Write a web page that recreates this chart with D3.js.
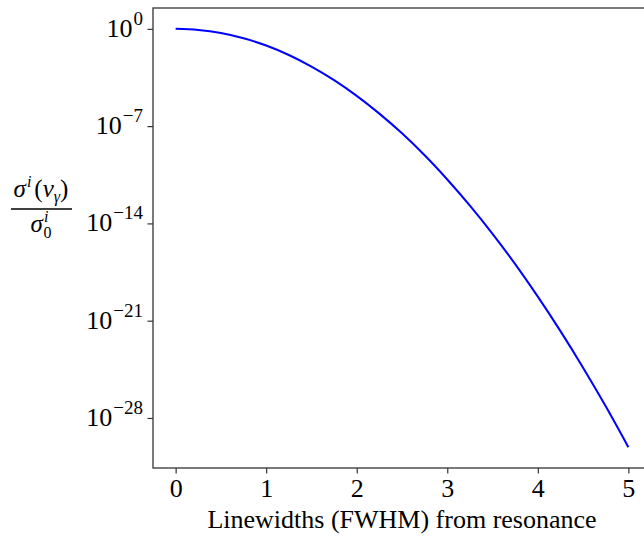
<!DOCTYPE html>
<html>
<head>
<meta charset="utf-8">
<script src="https://cdn.jsdelivr.net/npm/d3@7"></script>
<style>
body { margin: 0; background: #fff; }
text { font-family: "Liberation Serif", "DejaVu Serif", serif; fill: #000; }
</style>
</head>
<body>
<div id="chart"></div>
<script>
// linewidths from resonance (FWHM units)
var xVals = [0, 0.25, 0.5, 0.75, 1, 1.25, 1.5, 1.75, 2, 2.25, 2.5, 2.75, 3, 3.25, 3.5, 3.75, 4, 4.25, 4.5, 4.75, 5];
// log10 of sigma/sigma0
var logVals = [0, -0.08, -0.30, -0.68, -1.20, -1.88, -2.71, -3.69, -4.82, -6.10, -7.52, -9.10, -10.84, -12.72, -14.75, -16.93, -19.27, -21.75, -24.38, -27.16, -30.1];
var xTicks = [0, 1, 2, 3, 4, 5];
var yTickExp = [0, -7, -14, -21, -28];

var W = 644, H = 536;
var padding = {top: 8, left: 153, right: -7, bottom: 68};
var width = W - padding.left - padding.right,
    height = H - padding.top - padding.bottom;

var svg = d3.select("#chart").append("svg")
  .attr("width", W)
  .attr("height", H)
  .style("display", "block");

var g = svg.append("g")
  .attr("transform", "translate(" + padding.left + "," + padding.top + ")");

var x = d3.scaleLinear().domain([-0.25, 5.25]).range([0, width]);
var y = d3.scaleLog().domain([Math.pow(10, -31.6), Math.pow(10, 1.5)]).range([height, 0]);

var data = xVals.map(function (d, i) { return {x: d, y: Math.pow(10, logVals[i])}; });

var line = d3.line()
  .x(function (d) { return x(d.x); })
  .y(function (d) { return y(d.y); })
  .curve(d3.curveCatmullRom);

g.append("path")
  .datum(data)
  .attr("fill", "none")
  .attr("stroke", "#0000ff")
  .attr("stroke-width", 2)
  .attr("d", line);

// frame
g.append("rect")
  .attr("x", 0).attr("y", 0)
  .attr("width", width).attr("height", height)
  .attr("fill", "none")
  .attr("stroke", "#333")
  .attr("stroke-width", 1.3);

// x axis
var xAxis = d3.axisBottom(x).tickValues(xTicks).tickSize(5.5).tickFormat(d3.format("d"));
var gx = g.append("g")
  .attr("transform", "translate(0," + height + ")")
  .call(xAxis);
gx.select(".domain").remove();
gx.selectAll(".tick line").attr("stroke", "#333").attr("stroke-width", 1.2);
gx.selectAll(".tick text")
  .attr("y", 29)
  .attr("dy", null)
  .style("font-size", "26px");

// y axis, labels drawn with superscripts
var yAxis = d3.axisLeft(y)
  .tickValues(yTickExp.map(function (e) { return Math.pow(10, e); }))
  .tickSize(5.5)
  .tickFormat("");
var gy = g.append("g").call(yAxis);
gy.select(".domain").remove();
gy.selectAll(".tick line").attr("stroke", "#333").attr("stroke-width", 1.2);
gy.selectAll(".tick text").remove();

yTickExp.forEach(function (e) {
  var t = g.append("text")
    .attr("x", -10)
    .attr("y", y(Math.pow(10, e)) + 8)
    .attr("text-anchor", "end")
    .style("font-size", "26px");
  t.append("tspan").text("10");
  t.append("tspan")
    .attr("dx", 1)
    .attr("dy", -12)
    .style("font-size", "19px")
    .text(e === 0 ? "0" : "\u2212" + (-e));
});

// x label
svg.append("text")
  .attr("x", padding.left + width / 2)
  .attr("y", 528)
  .attr("text-anchor", "middle")
  .style("font-size", "26px")
  .text("Linewidths (FWHM) from resonance");

// y label as a fraction
var yl = svg.append("g").attr("transform", "translate(41,209)");
var num = yl.append("text")
  .attr("x", 0).attr("y", -12)
  .attr("text-anchor", "middle")
  .style("font-size", "25px")
  .style("font-style", "italic");
num.append("tspan").text("\u03c3");
num.append("tspan").attr("dx", 1).attr("dy", -10).style("font-size", "16px").text("i");
num.append("tspan").attr("dx", 3).attr("dy", 10).style("font-style", "normal").text("(");
num.append("tspan").text("\u03bd");
num.append("tspan").attr("dy", 5).style("font-size", "16px").text("\u03b3");
num.append("tspan").attr("dy", -5).style("font-style", "normal").text(")");
yl.append("line")
  .attr("x1", -30).attr("x2", 31)
  .attr("y1", 0).attr("y2", 0)
  .attr("stroke", "#000")
  .attr("stroke-width", 1.5);
var den = yl.append("text")
  .attr("x", 0).attr("y", 23)
  .attr("text-anchor", "middle")
  .style("font-size", "25px")
  .style("font-style", "italic");
den.append("tspan").text("\u03c3");
den.append("tspan").attr("dx", 1).attr("dy", -10).style("font-size", "16px").text("i");
den.append("tspan").attr("dx", -5).attr("dy", 16).style("font-size", "16px").style("font-style", "normal").text("0");
</script>
</body>
</html>
